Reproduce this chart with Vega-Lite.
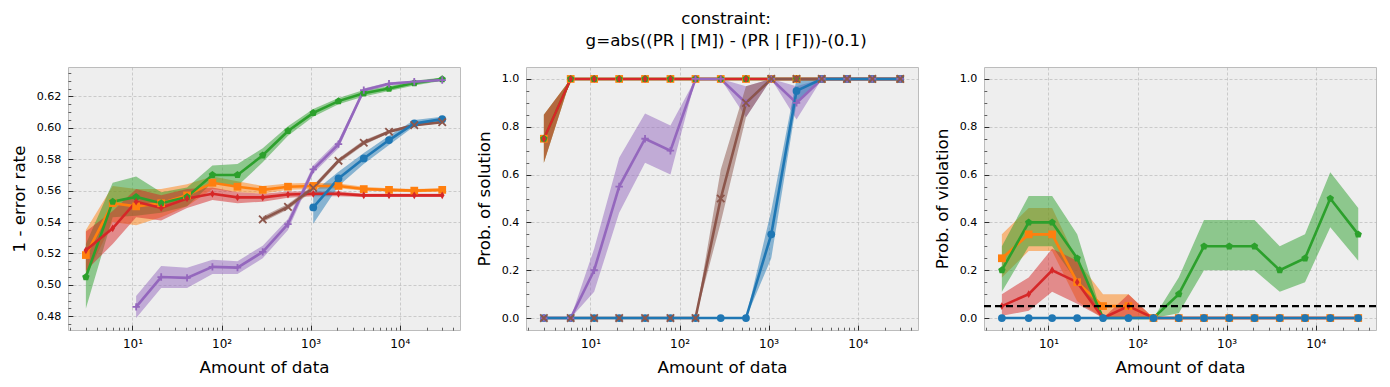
{
"$schema": "https://vega.github.io/schema/vega-lite/v6.json",
"background": "white",
"padding": {"left": 10, "top": 10, "right": 5, "bottom": 5},
"title": {"text": ["constraint:", "g=abs((PR | [M]) - (PR | [F]))-(0.1)"], "fontSize": 16.7, "fontWeight": "normal", "font": "DejaVu Sans", "anchor": "middle", "lineHeight": 22, "offset": 17, "dx": 32, "color": "#000"},
"spacing": 66,
"bounds": "flush",
"config": {
  "view": {"fill": "#eeeeee", "stroke": "#bcbcbc", "strokeWidth": 1},
  "font": "DejaVu Sans",
  "axis": {"labelFont": "DejaVu Sans", "titleFont": "DejaVu Sans", "labelColor": "#000", "titleColor": "#000", "labelFontSize": 11.1, "titleFontSize": 16.7, "titleFontWeight": "normal", "domain": false, "tickColor": "#000"}
},
"datasets": {
"p1": [
{"s":"s1","x":3,"y":0.519,"lo":0.505,"hi":0.535},
{"s":"s1","x":6,"y":0.552,"lo":0.540,"hi":0.563},
{"s":"s1","x":11,"y":0.550,"lo":0.538,"hi":0.561},
{"s":"s1","x":21,"y":0.552,"lo":0.543,"hi":0.561},
{"s":"s1","x":41,"y":0.557,"lo":0.550,"hi":0.564},
{"s":"s1","x":79,"y":0.565,"lo":0.561,"hi":0.569},
{"s":"s1","x":151,"y":0.5625,"lo":0.559,"hi":0.566},
{"s":"s1","x":290,"y":0.5605,"lo":0.558,"hi":0.563},
{"s":"s1","x":557,"y":0.5625,"lo":0.5605,"hi":0.5645},
{"s":"s1","x":1070,"y":0.563,"lo":0.561,"hi":0.565},
{"s":"s1","x":2056,"y":0.563,"lo":0.5615,"hi":0.5645},
{"s":"s1","x":3948,"y":0.561,"lo":0.560,"hi":0.5625},
{"s":"s1","x":7584,"y":0.5605,"lo":0.5595,"hi":0.5615},
{"s":"s1","x":14568,"y":0.560,"lo":0.559,"hi":0.561},
{"s":"s1","x":30000,"y":0.5605,"lo":0.5595,"hi":0.5615},
{"s":"s2","x":3,"y":0.505,"lo":0.485,"hi":0.526},
{"s":"s2","x":6,"y":0.553,"lo":0.543,"hi":0.565},
{"s":"s2","x":11,"y":0.556,"lo":0.544,"hi":0.569},
{"s":"s2","x":21,"y":0.552,"lo":0.546,"hi":0.559},
{"s":"s2","x":41,"y":0.556,"lo":0.550,"hi":0.562},
{"s":"s2","x":79,"y":0.570,"lo":0.565,"hi":0.576},
{"s":"s2","x":151,"y":0.570,"lo":0.563,"hi":0.577},
{"s":"s2","x":290,"y":0.5825,"lo":0.578,"hi":0.587},
{"s":"s2","x":557,"y":0.598,"lo":0.595,"hi":0.601},
{"s":"s2","x":1070,"y":0.6095,"lo":0.607,"hi":0.612},
{"s":"s2","x":2056,"y":0.617,"lo":0.615,"hi":0.619},
{"s":"s2","x":3948,"y":0.622,"lo":0.620,"hi":0.624},
{"s":"s2","x":7584,"y":0.625,"lo":0.6235,"hi":0.6265},
{"s":"s2","x":14568,"y":0.6285,"lo":0.627,"hi":0.630},
{"s":"s2","x":30000,"y":0.631,"lo":0.630,"hi":0.632},
{"s":"s3","x":3,"y":0.522,"lo":0.509,"hi":0.534},
{"s":"s3","x":6,"y":0.536,"lo":0.526,"hi":0.547},
{"s":"s3","x":11,"y":0.553,"lo":0.543,"hi":0.561},
{"s":"s3","x":21,"y":0.549,"lo":0.541,"hi":0.557},
{"s":"s3","x":41,"y":0.555,"lo":0.549,"hi":0.561},
{"s":"s3","x":79,"y":0.558,"lo":0.554,"hi":0.562},
{"s":"s3","x":151,"y":0.5557,"lo":0.552,"hi":0.559},
{"s":"s3","x":290,"y":0.5557,"lo":0.553,"hi":0.558},
{"s":"s3","x":557,"y":0.5575,"lo":0.5555,"hi":0.5595},
{"s":"s3","x":1070,"y":0.558,"lo":0.5565,"hi":0.5595},
{"s":"s3","x":2056,"y":0.558,"lo":0.5565,"hi":0.5595},
{"s":"s3","x":3948,"y":0.557,"lo":0.556,"hi":0.558},
{"s":"s3","x":7584,"y":0.557,"lo":0.556,"hi":0.558},
{"s":"s3","x":14568,"y":0.557,"lo":0.556,"hi":0.558},
{"s":"s3","x":30000,"y":0.557,"lo":0.556,"hi":0.558},
{"s":"s4","x":11,"y":0.486,"lo":0.479,"hi":0.493},
{"s":"s4","x":21,"y":0.505,"lo":0.498,"hi":0.512},
{"s":"s4","x":41,"y":0.5045,"lo":0.498,"hi":0.511},
{"s":"s4","x":79,"y":0.5115,"lo":0.507,"hi":0.516},
{"s":"s4","x":151,"y":0.511,"lo":0.507,"hi":0.515},
{"s":"s4","x":290,"y":0.521,"lo":0.517,"hi":0.525},
{"s":"s4","x":557,"y":0.5387,"lo":0.535,"hi":0.542},
{"s":"s4","x":1070,"y":0.5735,"lo":0.571,"hi":0.576},
{"s":"s4","x":2056,"y":0.5896,"lo":0.587,"hi":0.592},
{"s":"s4","x":3948,"y":0.624,"lo":0.623,"hi":0.625},
{"s":"s4","x":7584,"y":0.628,"lo":0.627,"hi":0.629},
{"s":"s4","x":14568,"y":0.6293,"lo":0.6285,"hi":0.630},
{"s":"s4","x":30000,"y":0.6304,"lo":0.6297,"hi":0.6311},
{"s":"s5","x":290,"y":0.5417,"lo":0.540,"hi":0.5435},
{"s":"s5","x":557,"y":0.5497,"lo":0.548,"hi":0.5515},
{"s":"s5","x":1070,"y":0.5618,"lo":0.560,"hi":0.5635},
{"s":"s5","x":2056,"y":0.579,"lo":0.5775,"hi":0.5805},
{"s":"s5","x":3948,"y":0.5905,"lo":0.589,"hi":0.592},
{"s":"s5","x":7584,"y":0.5975,"lo":0.5965,"hi":0.5985},
{"s":"s5","x":14568,"y":0.6017,"lo":0.601,"hi":0.6025},
{"s":"s5","x":30000,"y":0.6036,"lo":0.603,"hi":0.6042},
{"s":"s6","x":1070,"y":0.5493,"lo":0.539,"hi":0.559},
{"s":"s6","x":2056,"y":0.5678,"lo":0.563,"hi":0.572},
{"s":"s6","x":3948,"y":0.5805,"lo":0.577,"hi":0.584},
{"s":"s6","x":7584,"y":0.5922,"lo":0.589,"hi":0.595},
{"s":"s6","x":14568,"y":0.6028,"lo":0.601,"hi":0.605},
{"s":"s6","x":30000,"y":0.6055,"lo":0.604,"hi":0.607}
],
"p2": [
{"s":"s1","x":3,"y":0.75,"lo":0.65,"hi":0.85},
{"s":"s1","x":6,"y":1,"lo":1,"hi":1},
{"s":"s1","x":11,"y":1,"lo":1,"hi":1},
{"s":"s1","x":21,"y":1,"lo":1,"hi":1},
{"s":"s1","x":41,"y":1,"lo":1,"hi":1},
{"s":"s1","x":79,"y":1,"lo":1,"hi":1},
{"s":"s1","x":151,"y":1,"lo":1,"hi":1},
{"s":"s1","x":290,"y":1,"lo":1,"hi":1},
{"s":"s1","x":557,"y":1,"lo":1,"hi":1},
{"s":"s1","x":1070,"y":1,"lo":1,"hi":1},
{"s":"s1","x":2056,"y":1,"lo":1,"hi":1},
{"s":"s1","x":3948,"y":1,"lo":1,"hi":1},
{"s":"s1","x":7584,"y":1,"lo":1,"hi":1},
{"s":"s1","x":14568,"y":1,"lo":1,"hi":1},
{"s":"s1","x":30000,"y":1,"lo":1,"hi":1},
{"s":"s2","x":3,"y":0.75,"lo":0.65,"hi":0.85},
{"s":"s2","x":6,"y":1,"lo":1,"hi":1},
{"s":"s2","x":11,"y":1,"lo":1,"hi":1},
{"s":"s2","x":21,"y":1,"lo":1,"hi":1},
{"s":"s2","x":41,"y":1,"lo":1,"hi":1},
{"s":"s2","x":79,"y":1,"lo":1,"hi":1},
{"s":"s2","x":151,"y":1,"lo":1,"hi":1},
{"s":"s2","x":290,"y":1,"lo":1,"hi":1},
{"s":"s2","x":557,"y":1,"lo":1,"hi":1},
{"s":"s2","x":1070,"y":1,"lo":1,"hi":1},
{"s":"s2","x":2056,"y":1,"lo":1,"hi":1},
{"s":"s2","x":3948,"y":1,"lo":1,"hi":1},
{"s":"s2","x":7584,"y":1,"lo":1,"hi":1},
{"s":"s2","x":14568,"y":1,"lo":1,"hi":1},
{"s":"s2","x":30000,"y":1,"lo":1,"hi":1},
{"s":"s3","x":3,"y":0.75,"lo":0.65,"hi":0.85},
{"s":"s3","x":6,"y":1,"lo":1,"hi":1},
{"s":"s3","x":11,"y":1,"lo":1,"hi":1},
{"s":"s3","x":21,"y":1,"lo":1,"hi":1},
{"s":"s3","x":41,"y":1,"lo":1,"hi":1},
{"s":"s3","x":79,"y":1,"lo":1,"hi":1},
{"s":"s3","x":151,"y":1,"lo":1,"hi":1},
{"s":"s3","x":290,"y":1,"lo":1,"hi":1},
{"s":"s3","x":557,"y":1,"lo":1,"hi":1},
{"s":"s3","x":1070,"y":1,"lo":1,"hi":1},
{"s":"s3","x":2056,"y":1,"lo":1,"hi":1},
{"s":"s3","x":3948,"y":1,"lo":1,"hi":1},
{"s":"s3","x":7584,"y":1,"lo":1,"hi":1},
{"s":"s3","x":14568,"y":1,"lo":1,"hi":1},
{"s":"s3","x":30000,"y":1,"lo":1,"hi":1},
{"s":"s4","x":3,"y":0,"lo":0,"hi":0},
{"s":"s4","x":6,"y":0,"lo":0,"hi":0},
{"s":"s4","x":11,"y":0.2,"lo":0.11,"hi":0.29},
{"s":"s4","x":21,"y":0.55,"lo":0.44,"hi":0.67},
{"s":"s4","x":41,"y":0.75,"lo":0.65,"hi":0.855},
{"s":"s4","x":79,"y":0.7,"lo":0.6,"hi":0.805},
{"s":"s4","x":151,"y":1,"lo":1,"hi":1},
{"s":"s4","x":290,"y":1,"lo":1,"hi":1},
{"s":"s4","x":557,"y":0.9,"lo":0.84,"hi":0.97},
{"s":"s4","x":1070,"y":1,"lo":1,"hi":1},
{"s":"s4","x":2056,"y":0.9,"lo":0.83,"hi":0.97},
{"s":"s4","x":3948,"y":1,"lo":1,"hi":1},
{"s":"s4","x":7584,"y":1,"lo":1,"hi":1},
{"s":"s4","x":14568,"y":1,"lo":1,"hi":1},
{"s":"s4","x":30000,"y":1,"lo":1,"hi":1},
{"s":"s5","x":3,"y":0,"lo":0,"hi":0},
{"s":"s5","x":6,"y":0,"lo":0,"hi":0},
{"s":"s5","x":11,"y":0,"lo":0,"hi":0},
{"s":"s5","x":21,"y":0,"lo":0,"hi":0},
{"s":"s5","x":41,"y":0,"lo":0,"hi":0},
{"s":"s5","x":79,"y":0,"lo":0,"hi":0},
{"s":"s5","x":151,"y":0,"lo":0,"hi":0},
{"s":"s5","x":290,"y":0.5,"lo":0.4,"hi":0.62},
{"s":"s5","x":557,"y":0.9,"lo":0.84,"hi":0.97},
{"s":"s5","x":1070,"y":1,"lo":1,"hi":1},
{"s":"s5","x":2056,"y":1,"lo":1,"hi":1},
{"s":"s5","x":3948,"y":1,"lo":1,"hi":1},
{"s":"s5","x":7584,"y":1,"lo":1,"hi":1},
{"s":"s5","x":14568,"y":1,"lo":1,"hi":1},
{"s":"s5","x":30000,"y":1,"lo":1,"hi":1},
{"s":"s6","x":3,"y":0,"lo":0,"hi":0},
{"s":"s6","x":6,"y":0,"lo":0,"hi":0},
{"s":"s6","x":11,"y":0,"lo":0,"hi":0},
{"s":"s6","x":21,"y":0,"lo":0,"hi":0},
{"s":"s6","x":41,"y":0,"lo":0,"hi":0},
{"s":"s6","x":79,"y":0,"lo":0,"hi":0},
{"s":"s6","x":151,"y":0,"lo":0,"hi":0},
{"s":"s6","x":290,"y":0,"lo":0,"hi":0},
{"s":"s6","x":557,"y":0,"lo":0,"hi":0},
{"s":"s6","x":1070,"y":0.35,"lo":0.25,"hi":0.45},
{"s":"s6","x":2056,"y":0.95,"lo":0.9,"hi":1.0},
{"s":"s6","x":3948,"y":1,"lo":1,"hi":1},
{"s":"s6","x":7584,"y":1,"lo":1,"hi":1},
{"s":"s6","x":14568,"y":1,"lo":1,"hi":1},
{"s":"s6","x":30000,"y":1,"lo":1,"hi":1}
],
"p3": [
{"s":"s1","x":3,"y":0.25,"lo":0.17,"hi":0.35},
{"s":"s1","x":6,"y":0.35,"lo":0.28,"hi":0.46},
{"s":"s1","x":11,"y":0.35,"lo":0.28,"hi":0.46},
{"s":"s1","x":21,"y":0.15,"lo":0.07,"hi":0.24},
{"s":"s1","x":41,"y":0.05,"lo":0,"hi":0.1},
{"s":"s1","x":79,"y":0.05,"lo":0,"hi":0.1},
{"s":"s1","x":151,"y":0,"lo":0,"hi":0},
{"s":"s1","x":290,"y":0,"lo":0,"hi":0},
{"s":"s1","x":557,"y":0,"lo":0,"hi":0},
{"s":"s1","x":1070,"y":0,"lo":0,"hi":0},
{"s":"s1","x":2056,"y":0,"lo":0,"hi":0},
{"s":"s1","x":3948,"y":0,"lo":0,"hi":0},
{"s":"s1","x":7584,"y":0,"lo":0,"hi":0},
{"s":"s1","x":14568,"y":0,"lo":0,"hi":0},
{"s":"s1","x":30000,"y":0,"lo":0,"hi":0},
{"s":"s2","x":3,"y":0.2,"lo":0.11,"hi":0.3},
{"s":"s2","x":6,"y":0.4,"lo":0.3,"hi":0.51},
{"s":"s2","x":11,"y":0.4,"lo":0.3,"hi":0.51},
{"s":"s2","x":21,"y":0.25,"lo":0.15,"hi":0.35},
{"s":"s2","x":41,"y":0,"lo":0,"hi":0},
{"s":"s2","x":79,"y":0,"lo":0,"hi":0},
{"s":"s2","x":151,"y":0,"lo":0,"hi":0},
{"s":"s2","x":290,"y":0.1,"lo":0.02,"hi":0.17},
{"s":"s2","x":557,"y":0.3,"lo":0.2,"hi":0.41},
{"s":"s2","x":1070,"y":0.3,"lo":0.2,"hi":0.41},
{"s":"s2","x":2056,"y":0.3,"lo":0.2,"hi":0.41},
{"s":"s2","x":3948,"y":0.2,"lo":0.11,"hi":0.3},
{"s":"s2","x":7584,"y":0.25,"lo":0.15,"hi":0.35},
{"s":"s2","x":14568,"y":0.5,"lo":0.38,"hi":0.61},
{"s":"s2","x":30000,"y":0.35,"lo":0.24,"hi":0.46},
{"s":"s3","x":3,"y":0.05,"lo":0.01,"hi":0.1},
{"s":"s3","x":6,"y":0.1,"lo":0.03,"hi":0.17},
{"s":"s3","x":11,"y":0.2,"lo":0.11,"hi":0.29},
{"s":"s3","x":21,"y":0.15,"lo":0.06,"hi":0.24},
{"s":"s3","x":41,"y":0,"lo":0,"hi":0},
{"s":"s3","x":79,"y":0.05,"lo":0,"hi":0.1},
{"s":"s3","x":151,"y":0,"lo":0,"hi":0},
{"s":"s3","x":290,"y":0,"lo":0,"hi":0},
{"s":"s3","x":557,"y":0,"lo":0,"hi":0},
{"s":"s3","x":1070,"y":0,"lo":0,"hi":0},
{"s":"s3","x":2056,"y":0,"lo":0,"hi":0},
{"s":"s3","x":3948,"y":0,"lo":0,"hi":0},
{"s":"s3","x":7584,"y":0,"lo":0,"hi":0},
{"s":"s3","x":14568,"y":0,"lo":0,"hi":0},
{"s":"s3","x":30000,"y":0,"lo":0,"hi":0},
{"s":"s6","x":3,"y":0,"lo":0,"hi":0},
{"s":"s6","x":6,"y":0,"lo":0,"hi":0},
{"s":"s6","x":11,"y":0,"lo":0,"hi":0},
{"s":"s6","x":21,"y":0,"lo":0,"hi":0},
{"s":"s6","x":41,"y":0,"lo":0,"hi":0},
{"s":"s6","x":79,"y":0,"lo":0,"hi":0},
{"s":"s6","x":151,"y":0,"lo":0,"hi":0},
{"s":"s6","x":290,"y":0,"lo":0,"hi":0},
{"s":"s6","x":557,"y":0,"lo":0,"hi":0},
{"s":"s6","x":1070,"y":0,"lo":0,"hi":0},
{"s":"s6","x":2056,"y":0,"lo":0,"hi":0},
{"s":"s6","x":3948,"y":0,"lo":0,"hi":0},
{"s":"s6","x":7584,"y":0,"lo":0,"hi":0},
{"s":"s6","x":14568,"y":0,"lo":0,"hi":0},
{"s":"s6","x":30000,"y":0,"lo":0,"hi":0}
]
},
"hconcat": [
{
 "width": 392, "height": 263,
 "data": {"name": "p1"},
 "layer": [
  {"mark": {"type": "area", "opacity": 0.5},
   "encoding": {
    "x": {"field": "x", "type": "quantitative", "scale": {"type": "log", "domain": [1.89, 47500], "nice": false}, "axis": {"values": [2,3,4,5,6,7,8,9,20,30,40,50,60,70,80,90,200,300,400,500,600,700,800,900,2000,3000,4000,5000,6000,7000,8000,9000,20000,30000,40000], "labels": false, "grid": false, "ticks": true, "tickSize": -2.8, "tickWidth": 0.6, "title": null, "orient": "bottom"}},
    "y": {"field": "lo", "type": "quantitative", "scale": {"domain": [0.4713, 0.6387], "nice": false, "zero": false}, "axis": {"values": [0.475,0.485,0.49,0.495,0.505,0.51,0.515,0.525,0.53,0.535,0.545,0.55,0.555,0.565,0.57,0.575,0.585,0.59,0.595,0.605,0.61,0.615,0.625,0.63,0.635], "labels": false, "grid": false, "ticks": true, "tickSize": -2.8, "tickWidth": 0.6, "title": null, "orient": "left"}},
    "y2": {"field": "hi"},
    "color": {"field": "s", "type": "nominal", "scale": {"domain": ["s1","s2","s3","s4","s5","s6"], "range": ["#ff7f0e","#2ca02c","#d62728","#9467bd","#8c564b","#1f77b4"]}, "legend": null}
   }},
  {"mark": {"type": "line", "strokeWidth": 2.6},
   "encoding": {
    "x": {"field": "x", "type": "quantitative", "axis": {"values": [10,100,1000,10000], "labelExpr": "datum.value == 10 ? '10\u00b9' : datum.value == 100 ? '10\u00b2' : datum.value == 1000 ? '10\u00b3' : '10\u2074'", "labelFontSize": 12, "grid": true, "gridColor": "#b2b2b2", "gridDash": [3,2], "gridWidth": 0.6, "tickSize": -4.9, "tickWidth": 0.8, "labelPadding": 13, "title": "Amount of data", "titlePadding": 10, "orient": "bottom"}},
    "y": {"field": "y", "type": "quantitative", "axis": {"values": [0.48,0.50,0.52,0.54,0.56,0.58,0.60,0.62], "format": ".2f", "grid": true, "gridColor": "#b2b2b2", "gridDash": [3,2], "gridWidth": 0.6, "tickSize": -4.9, "tickWidth": 0.8, "labelPadding": 12, "title": "1 - error rate", "titlePadding": 8, "orient": "left"}},
    "color": {"field": "s", "type": "nominal", "legend": null}
   }},
  {"transform": [{"filter": "datum.s != 's4' && datum.s != 's5'"}],
   "mark": {"type": "point", "filled": true, "size": 60, "opacity": 1},
   "encoding": {
    "x": {"field": "x", "type": "quantitative", "axis": null},
    "y": {"field": "y", "type": "quantitative", "axis": null},
    "color": {"field": "s", "type": "nominal", "legend": null},
    "shape": {"field": "s", "type": "nominal", "scale": {"domain": ["s1","s2","s3","s4","s5","s6"], "range": ["square", "M0,-1L0.951,-0.309L0.588,0.809L-0.588,0.809L-0.951,-0.309Z", "M0,-1L0.6,0L0,1L-0.6,0Z", "M-1,0L1,0M0,-1L0,1", "M-1,-1L1,1M-1,1L1,-1", "circle"]}, "legend": null}
   }},
  {"transform": [{"filter": "datum.s == 's4' || datum.s == 's5'"}],
   "mark": {"type": "point", "filled": false, "size": 55, "strokeWidth": 1.8, "opacity": 1},
   "encoding": {
    "x": {"field": "x", "type": "quantitative", "axis": null},
    "y": {"field": "y", "type": "quantitative", "axis": null},
    "color": {"field": "s", "type": "nominal", "legend": null},
    "shape": {"field": "s", "type": "nominal", "legend": null}
   }}
 ],
 "resolve": {"axis": {"x": "independent", "y": "independent"}}
},
{
 "width": 392, "height": 263,
 "data": {"name": "p2"},
 "layer": [
  {"mark": {"type": "area", "opacity": 0.5},
   "encoding": {
    "x": {"field": "x", "type": "quantitative", "scale": {"type": "log", "domain": [1.89, 47500], "nice": false}, "axis": {"values": [2,3,4,5,6,7,8,9,20,30,40,50,60,70,80,90,200,300,400,500,600,700,800,900,2000,3000,4000,5000,6000,7000,8000,9000,20000,30000,40000], "labels": false, "grid": false, "ticks": true, "tickSize": -2.8, "tickWidth": 0.6, "title": null, "orient": "bottom"}},
    "y": {"field": "lo", "type": "quantitative", "scale": {"domain": [-0.05, 1.05], "nice": false, "zero": false}, "axis": {"values": [0.05,0.1,0.15,0.25,0.3,0.35,0.45,0.5,0.55,0.65,0.7,0.75,0.85,0.9,0.95], "labels": false, "grid": false, "ticks": true, "tickSize": -2.8, "tickWidth": 0.6, "title": null, "orient": "left"}},
    "y2": {"field": "hi"},
    "color": {"field": "s", "type": "nominal", "scale": {"domain": ["s1","s2","s3","s4","s5","s6"], "range": ["#ff7f0e","#2ca02c","#d62728","#9467bd","#8c564b","#1f77b4"]}, "legend": null}
   }},
  {"mark": {"type": "line", "strokeWidth": 2.6},
   "encoding": {
    "x": {"field": "x", "type": "quantitative", "axis": {"values": [10,100,1000,10000], "labelExpr": "datum.value == 10 ? '10\u00b9' : datum.value == 100 ? '10\u00b2' : datum.value == 1000 ? '10\u00b3' : '10\u2074'", "labelFontSize": 12, "grid": true, "gridColor": "#b2b2b2", "gridDash": [3,2], "gridWidth": 0.6, "tickSize": -4.9, "tickWidth": 0.8, "labelPadding": 13, "title": "Amount of data", "titlePadding": 10, "orient": "bottom"}},
    "y": {"field": "y", "type": "quantitative", "axis": {"values": [0,0.2,0.4,0.6,0.8,1.0], "format": ".1f", "grid": true, "gridColor": "#b2b2b2", "gridDash": [3,2], "gridWidth": 0.6, "tickSize": -4.9, "tickWidth": 0.8, "labelPadding": 12, "title": "Prob. of solution", "titlePadding": 8, "orient": "left"}},
    "color": {"field": "s", "type": "nominal", "legend": null}
   }},
  {"transform": [{"filter": "datum.s != 's4' && datum.s != 's5'"}],
   "mark": {"type": "point", "filled": true, "size": 60, "opacity": 1},
   "encoding": {
    "x": {"field": "x", "type": "quantitative", "axis": null},
    "y": {"field": "y", "type": "quantitative", "axis": null},
    "color": {"field": "s", "type": "nominal", "legend": null},
    "shape": {"field": "s", "type": "nominal", "scale": {"domain": ["s1","s2","s3","s4","s5","s6"], "range": ["square", "M0,-1L0.951,-0.309L0.588,0.809L-0.588,0.809L-0.951,-0.309Z", "M0,-1L0.6,0L0,1L-0.6,0Z", "M-1,0L1,0M0,-1L0,1", "M-1,-1L1,1M-1,1L1,-1", "circle"]}, "legend": null}
   }},
  {"transform": [{"filter": "datum.s == 's4' || datum.s == 's5'"}],
   "mark": {"type": "point", "filled": false, "size": 55, "strokeWidth": 1.8, "opacity": 1},
   "encoding": {
    "x": {"field": "x", "type": "quantitative", "axis": null},
    "y": {"field": "y", "type": "quantitative", "axis": null},
    "color": {"field": "s", "type": "nominal", "legend": null},
    "shape": {"field": "s", "type": "nominal", "legend": null}
   }}
 ],
 "resolve": {"axis": {"x": "independent", "y": "independent"}}
},
{
 "width": 392, "height": 263,
 "data": {"name": "p3"},
 "layer": [
  {"mark": {"type": "area", "opacity": 0.5},
   "encoding": {
    "x": {"field": "x", "type": "quantitative", "scale": {"type": "log", "domain": [1.89, 47500], "nice": false}, "axis": {"values": [2,3,4,5,6,7,8,9,20,30,40,50,60,70,80,90,200,300,400,500,600,700,800,900,2000,3000,4000,5000,6000,7000,8000,9000,20000,30000,40000], "labels": false, "grid": false, "ticks": true, "tickSize": -2.8, "tickWidth": 0.6, "title": null, "orient": "bottom"}},
    "y": {"field": "lo", "type": "quantitative", "scale": {"domain": [-0.05, 1.05], "nice": false, "zero": false}, "axis": {"values": [0.05,0.1,0.15,0.25,0.3,0.35,0.45,0.5,0.55,0.65,0.7,0.75,0.85,0.9,0.95], "labels": false, "grid": false, "ticks": true, "tickSize": -2.8, "tickWidth": 0.6, "title": null, "orient": "left"}},
    "y2": {"field": "hi"},
    "color": {"field": "s", "type": "nominal", "scale": {"domain": ["s1","s2","s3","s4","s5","s6"], "range": ["#ff7f0e","#2ca02c","#d62728","#9467bd","#8c564b","#1f77b4"]}, "legend": null}
   }},
  {"mark": {"type": "line", "strokeWidth": 2.6},
   "encoding": {
    "x": {"field": "x", "type": "quantitative", "axis": {"values": [10,100,1000,10000], "labelExpr": "datum.value == 10 ? '10\u00b9' : datum.value == 100 ? '10\u00b2' : datum.value == 1000 ? '10\u00b3' : '10\u2074'", "labelFontSize": 12, "grid": true, "gridColor": "#b2b2b2", "gridDash": [3,2], "gridWidth": 0.6, "tickSize": -4.9, "tickWidth": 0.8, "labelPadding": 13, "title": "Amount of data", "titlePadding": 10, "orient": "bottom"}},
    "y": {"field": "y", "type": "quantitative", "axis": {"values": [0,0.2,0.4,0.6,0.8,1.0], "format": ".1f", "grid": true, "gridColor": "#b2b2b2", "gridDash": [3,2], "gridWidth": 0.6, "tickSize": -4.9, "tickWidth": 0.8, "labelPadding": 12, "title": "Prob. of violation", "titlePadding": 8, "orient": "left"}},
    "color": {"field": "s", "type": "nominal", "legend": null}
   }},
  {"transform": [{"filter": "datum.s != 's4' && datum.s != 's5'"}],
   "mark": {"type": "point", "filled": true, "size": 60, "opacity": 1},
   "encoding": {
    "x": {"field": "x", "type": "quantitative", "axis": null},
    "y": {"field": "y", "type": "quantitative", "axis": null},
    "color": {"field": "s", "type": "nominal", "legend": null},
    "shape": {"field": "s", "type": "nominal", "scale": {"domain": ["s1","s2","s3","s4","s5","s6"], "range": ["square", "M0,-1L0.951,-0.309L0.588,0.809L-0.588,0.809L-0.951,-0.309Z", "M0,-1L0.6,0L0,1L-0.6,0Z", "M-1,0L1,0M0,-1L0,1", "M-1,-1L1,1M-1,1L1,-1", "circle"]}, "legend": null}
   }},
  {"data": {"values": [{}]},
   "mark": {"type": "rule", "color": "#000", "strokeWidth": 2.2, "strokeDash": [7,4]},
   "encoding": {"y": {"datum": 0.05, "type": "quantitative", "axis": null}}}
 ],
 "resolve": {"axis": {"x": "independent", "y": "independent"}}
}
]
}
